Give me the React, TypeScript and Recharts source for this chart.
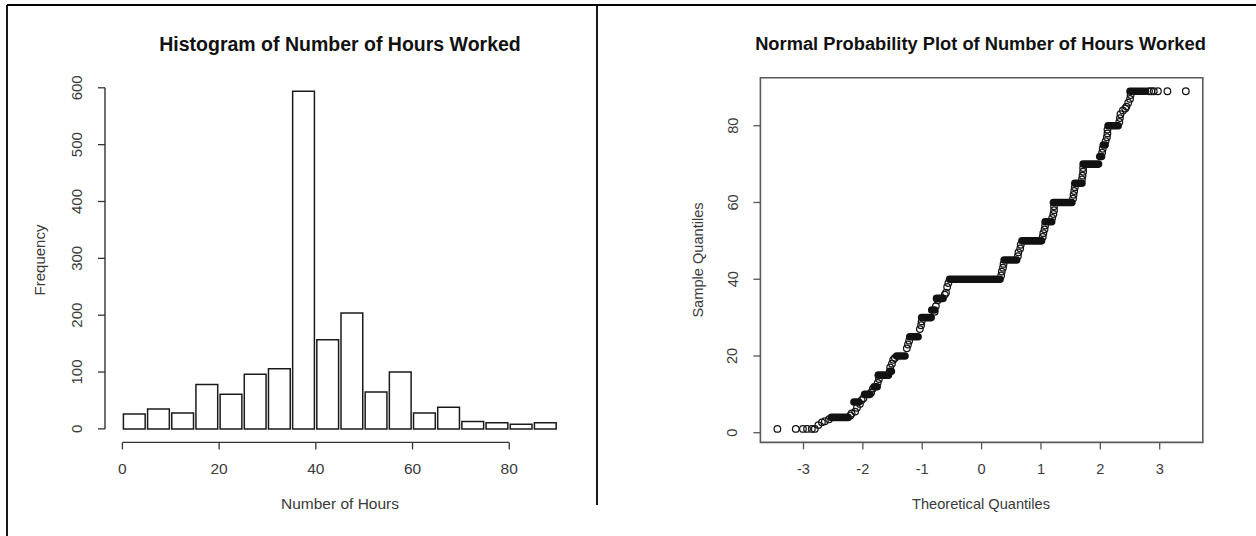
import React from 'react';
import {
  ComposedChart,
  Bar,
  XAxis,
  YAxis,
  ReferenceLine,
  ReferenceArea,
  ScatterChart,
  Scatter,
} from 'recharts';

// ---------------- Histogram data ----------------
const binMids = [2.5, 7.5, 12.5, 17.5, 22.5, 27.5, 32.5, 37.5, 42.5, 47.5, 52.5, 57.5, 62.5, 67.5, 72.5, 77.5, 82.5, 87.5];
const frequencies = [26, 35, 28, 78, 61, 96, 106, 594, 157, 204, 65, 100, 28, 38, 13, 11, 8, 11];
const histXTicks = [0, 20, 40, 60, 80];
const histYTicks = [0, 100, 200, 300, 400, 500, 600];
const binWidth = 5;

// ---------------- Normal Q-Q data ----------------
const qqTheoretical = [
  -3.44, -3.13, -3.01, -2.94, -2.86, -2.81, -2.75, -2.69, -2.64, -2.57,
  -2.21, -2.19, -2.13, -2.1, -2.05, -2.02, -1.99,
  -1.86, -1.83, -1.75, -1.73,
  -1.54, -1.51, -1.49, -1.46,
  -1.26, -1.24, -1.22,
  -1.04, -1.02, -1.01,
  -0.79, -0.77, -0.74,
  -0.62, -0.6, -0.58, -0.56,
  0.33, 0.34, 0.36, 0.37,
  0.61, 0.62, 0.65, 0.66,
  1.03, 1.04, 1.06, 1.07,
  1.19, 1.21, 1.22, 1.22,
  1.54, 1.55, 1.56, 1.57,
  1.69, 1.7, 1.71, 1.71,
  2.03, 2.04, 2.09, 2.11, 2.12, 2.12,
  2.32, 2.33, 2.34, 2.38, 2.42, 2.44, 2.47, 2.5, 2.51,
  2.82, 2.86, 2.9, 2.97, 3.13, 3.44,
];
const qqSample = [
  1, 1, 1, 1, 1, 1, 2, 2.7, 3, 3.5,
  4.5, 5, 5.5, 6.5, 7.5, 8.5, 9,
  10.5, 11.5, 13, 14,
  17, 18, 19, 19.5,
  22, 23, 24,
  27, 28, 29,
  31.5, 33, 34.5,
  36, 36.5, 38, 39,
  41, 42, 43, 44,
  46, 47, 48, 49,
  51, 52, 53, 54,
  56, 57, 58, 59,
  61, 62, 63, 64,
  66, 67, 68, 69,
  73, 74, 76, 77, 78, 79,
  81, 82, 83, 84, 84.5, 85, 86, 87, 88,
  89, 89, 89, 89, 89, 89,
];
// Runs of tied sample values (drawn as dense bands of circles)
const runStart = [-2.53, -2.15, -1.97, -1.81, -1.74, -1.55, -1.43, -1.21, -1.01, -0.84, -0.76, -0.54, 0.38, 0.68, 1.07, 1.21, 1.57, 1.71, 1.99, 2.05, 2.13, 2.5];
const runEnd = [-2.25, -2.07, -1.88, -1.76, -1.57, -1.52, -1.29, -1.07, -0.85, -0.79, -0.65, 0.31, 0.59, 1.01, 1.18, 1.52, 1.69, 1.97, 2.02, 2.08, 2.3, 2.76];
const runValue = [4, 8, 10, 12, 15, 16, 20, 25, 30, 32, 35, 40, 45, 50, 55, 60, 65, 70, 72, 75, 80, 89];
const qqXTicks = [-3, -2, -1, 0, 1, 2, 3];
const qqYTicks = [0, 20, 40, 60, 80];

// ---------------- Derived tables ----------------
const histData = binMids.map((mid, i) => ({ mid, freq: frequencies[i] }));
const qqData = qqTheoretical.map((x, i) => ({ x, y: qqSample[i] }));

// R style axis extension (4%)
const histXDomain: [number, number] = [-3.6, 93.6];
const histYDomain: [number, number] = [-23.76, 617.76];
const qqXDomain: [number, number] = [-3.726, 3.726];
const qqYDomain: [number, number] = [-2.52, 92.52];

const FONT = '"Liberation Sans", Arial, Helvetica, sans-serif';
const TEXT = '#3a3a3a';

const H_LEFT = 105;
const H_RIGHT = 575;
const PLOT_TOP = 77.7;
const PLOT_BOTTOM = 442.4;
const H_W = 600;
const H_H = 536;
const histBarSize = (binWidth * (H_RIGHT - H_LEFT)) / (histXDomain[1] - histXDomain[0]);

const Q_LEFT = 760.4;
const Q_RIGHT = 1202.8;
const Q_OFFSET = 600;
const Q_W = 656;
const AX = 1; // thickness reserved for axes

const makeXTick = (fontSize: number) => (props: any) => {
  const { x, y, payload } = props;
  return (
    <text x={x} y={y} textAnchor="middle" dy="0.71em" fontSize={fontSize} fontFamily={FONT} fill={TEXT}>
      {payload.value}
    </text>
  );
};

const makeYTick = (fontSize: number) => (props: any) => {
  const { x, y, payload } = props;
  return (
    <text
      x={x}
      y={y}
      transform={`rotate(-90 ${x} ${y})`}
      textAnchor="middle"
      dy="0.35em"
      fontSize={fontSize}
      fontFamily={FONT}
      fill={TEXT}
    >
      {payload.value}
    </text>
  );
};

const circleShape = (props: any) => {
  const { cx, cy } = props;
  if (cx == null || cy == null) return <g />;
  return <circle cx={cx} cy={cy} r={3.3} fill="none" stroke="#151515" strokeWidth={1.25} />;
};

export default function App() {
  return (
    <div style={{ position: 'absolute', left: 0, top: 0, width: 1256, height: 536, background: '#fff', overflow: 'hidden' }}>
      {/* Histogram */}
      <div style={{ position: 'absolute', left: 0, top: 0 }}>
        <ComposedChart
          width={H_W}
          height={H_H}
          data={histData}
          margin={{ left: H_LEFT - AX, right: H_W - H_RIGHT, top: PLOT_TOP, bottom: H_H - PLOT_BOTTOM - AX }}
        >
          <XAxis
            dataKey="mid"
            type="number"
            domain={histXDomain}
            allowDataOverflow
            ticks={histXTicks}
            interval={0}
            height={AX}
            axisLine={false}
            tickSize={7}
            tickMargin={14}
            tickLine={{ stroke: '#333', strokeWidth: 1.3 }}
            tick={makeXTick(15.5)}
          />
          <YAxis
            type="number"
            domain={histYDomain}
            allowDataOverflow
            ticks={histYTicks}
            interval={0}
            width={AX}
            axisLine={false}
            tickSize={7}
            tickMargin={21}
            tickLine={{ stroke: '#333', strokeWidth: 1.3 }}
            tick={makeYTick(15)}
          />
          <ReferenceLine
            segment={[{ x: histXTicks[0], y: histYDomain[0] }, { x: histXTicks[histXTicks.length - 1], y: histYDomain[0] }]}
            stroke="#333"
            strokeWidth={1.4}
            ifOverflow="visible"
          />
          <ReferenceLine
            segment={[{ x: histXDomain[0], y: histYTicks[0] }, { x: histXDomain[0], y: histYTicks[histYTicks.length - 1] }]}
            stroke="#333"
            strokeWidth={1.4}
            ifOverflow="visible"
          />
          <Bar dataKey="freq" fill="#fff" stroke="#1a1a1a" strokeWidth={1.5} barSize={histBarSize} isAnimationActive={false} />
        </ComposedChart>
      </div>

      {/* Normal probability plot */}
      <div style={{ position: 'absolute', left: Q_OFFSET, top: 0 }}>
        <ScatterChart
          width={Q_W}
          height={H_H}
          margin={{ left: Q_LEFT - Q_OFFSET - AX, right: Q_OFFSET + Q_W - Q_RIGHT, top: PLOT_TOP, bottom: H_H - PLOT_BOTTOM - AX }}
        >
          <XAxis
            dataKey="x"
            type="number"
            domain={qqXDomain}
            allowDataOverflow
            ticks={qqXTicks}
            interval={0}
            height={AX}
            axisLine={false}
            tickSize={7}
            tickMargin={14}
            tickLine={{ stroke: '#555', strokeWidth: 1.3 }}
            tick={makeXTick(14.6)}
          />
          <YAxis
            dataKey="y"
            type="number"
            domain={qqYDomain}
            allowDataOverflow
            ticks={qqYTicks}
            interval={0}
            width={AX}
            axisLine={false}
            tickSize={7}
            tickMargin={21}
            tickLine={{ stroke: '#555', strokeWidth: 1.3 }}
            tick={makeYTick(14.6)}
          />
          <ReferenceArea
            x1={qqXDomain[0]}
            x2={qqXDomain[1]}
            y1={qqYDomain[0]}
            y2={qqYDomain[1]}
            fill="none"
            fillOpacity={0}
            stroke="#5a5a5a"
            strokeWidth={1.6}
            ifOverflow="visible"
          />
          {runValue.map((v, i) => (
            <ReferenceLine
              key={i}
              segment={[{ x: runStart[i], y: v }, { x: runEnd[i], y: v }]}
              stroke="#111"
              strokeWidth={7.6}
              strokeLinecap="round"
              ifOverflow="visible"
            />
          ))}
          <Scatter data={qqData} shape={circleShape} isAnimationActive={false} />
        </ScatterChart>
      </div>

      {/* Titles, axis titles and frame */}
      <svg width={1256} height={536} style={{ position: 'absolute', left: 0, top: 0, pointerEvents: 'none' }}>
        <line x1={7} y1={5} x2={1256} y2={5} stroke="#000" strokeWidth={1.8} />
        <line x1={7} y1={5} x2={7} y2={536} stroke="#000" strokeWidth={1.8} />
        <line x1={597} y1={5} x2={597} y2={505} stroke="#000" strokeWidth={1.8} />

        <text x={340} y={44} textAnchor="middle" dy="0.35em" fontSize={19.5} fontWeight="bold" fontFamily={FONT} fill="#111">
          Histogram of Number of Hours Worked
        </text>
        <text x={340} y={504} textAnchor="middle" dy="0.35em" fontSize={15.5} fontFamily={FONT} fill={TEXT}>
          Number of Hours
        </text>
        <text x={39.5} y={260} transform="rotate(-90 39.5 260)" textAnchor="middle" dy="0.35em" fontSize={15} fontFamily={FONT} fill={TEXT}>
          Frequency
        </text>

        <text x={980.5} y={44} textAnchor="middle" dy="0.35em" fontSize={18.3} fontWeight="bold" fontFamily={FONT} fill="#111">
          Normal Probability Plot of Number of Hours Worked
        </text>
        <text x={981} y={504} textAnchor="middle" dy="0.35em" fontSize={14.6} fontFamily={FONT} fill={TEXT}>
          Theoretical Quantiles
        </text>
        <text x={698} y={260} transform="rotate(-90 698 260)" textAnchor="middle" dy="0.35em" fontSize={14.6} fontFamily={FONT} fill={TEXT}>
          Sample Quantiles
        </text>
      </svg>
    </div>
  );
}
